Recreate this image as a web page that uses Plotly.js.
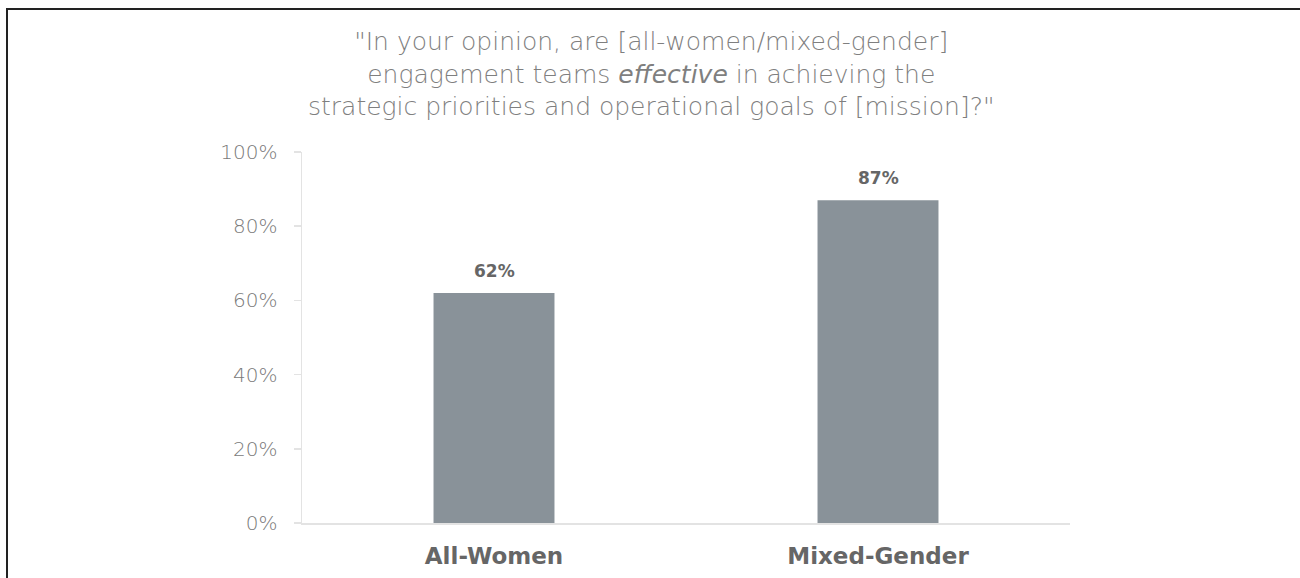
<!DOCTYPE html>
<html>
<head>
<meta charset="utf-8">
<script src="https://cdn.plot.ly/plotly-3.0.1.min.js"></script>
<style>
  html, body { margin: 0; padding: 0; background: #fff; }
  #wrap { position: relative; width: 1300px; height: 578px; overflow: hidden; }
  #frame { position: absolute; left: 6px; top: 8px; width: 1400px; height: 700px;
           border-top: 2px solid #222; border-left: 2px solid #222; box-sizing: border-box; pointer-events: none; z-index: 5; }
  #chart { position: absolute; left: 0; top: 0; width: 1300px; height: 578px; }
</style>
</head>
<body>
<div id="wrap">
  <div id="chart"></div>
  <div id="frame"></div>
</div>
<script>
const categories = ["All-Women", "Mixed-Gender"];
const values = [62, 87];
const valueLabels = ["62%", "87%"];
const yTickValues = [0, 20, 40, 60, 80, 100];
const yTickLabels = ["0%", "20%", "40%", "60%", "80%", "100%"];
const titleText = '"In your opinion, are [all-women/mixed-gender]<br>engagement teams <i>effective</i> in achieving the<br>strategic priorities and operational goals of [mission]?"';

const FONT = "'DejaVu Sans', sans-serif";

const trace = {
  type: "bar",
  x: categories,
  y: values,
  marker: { color: "#899299" },
  hoverinfo: "x+y"
};

const valueAnnotations = categories.map((c, i) => ({
  x: c,
  y: values[i],
  xref: "x",
  yref: "y",
  text: "<b>" + valueLabels[i] + "</b>",
  showarrow: false,
  yanchor: "bottom",
  yshift: 10,
  font: { family: FONT, size: 17, color: "#666666" }
}));

const titleAnnotation = {
  text: titleText,
  xref: "paper",
  yref: "paper",
  x: (651 - 302) / 768,
  y: 1.21,
  xanchor: "center",
  yanchor: "middle",
  showarrow: false,
  align: "center",
  font: { family: FONT, size: 25, color: "#7f7f7f", weight: 200 }
};

const layout = {
  width: 1300,
  height: 578,
  margin: { l: 302, r: 230, t: 152, b: 55 },
  paper_bgcolor: "#ffffff",
  plot_bgcolor: "#ffffff",
  bargap: 0.685,
  showlegend: false,
  annotations: [titleAnnotation].concat(valueAnnotations),
  xaxis: {
    type: "category",
    range: [-0.5, 1.5],
    showline: true,
    linecolor: "#e3e3e3",
    linewidth: 1.5,
    ticks: "",
    showgrid: false,
    zeroline: false,
    tickfont: { family: FONT, size: 23, color: "#666666", weight: 700 },
    ticklabelstandoff: 12
  },
  yaxis: {
    range: [0, 100],
    tickvals: yTickValues,
    ticktext: yTickLabels,
    showline: true,
    linecolor: "#e3e3e3",
    linewidth: 1.5,
    ticks: "outside",
    ticklen: 7,
    tickcolor: "#e3e3e3",
    tickwidth: 1.5,
    showgrid: false,
    zeroline: false,
    tickfont: { family: FONT, size: 20, color: "#7a7a7a", weight: 200 },
    ticklabelstandoff: 12
  }
};

Plotly.newPlot("chart", [trace], layout, { displayModeBar: false, staticPlot: true });
</script>
</body>
</html>
